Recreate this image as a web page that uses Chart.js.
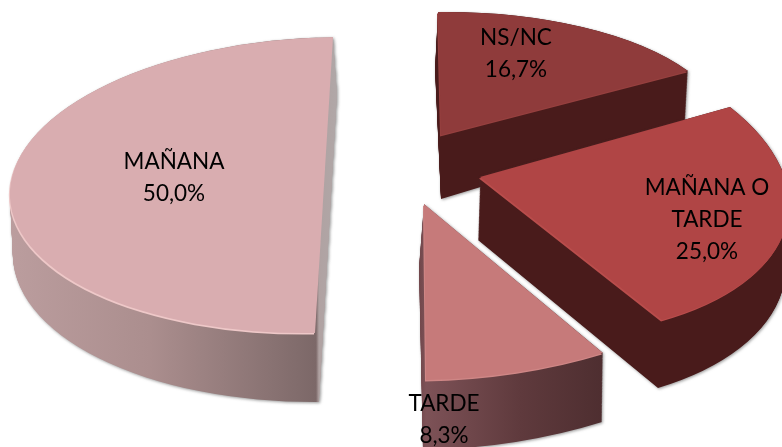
<!DOCTYPE html>
<html><head><meta charset="utf-8">
<style>html,body{margin:0;padding:0;background:#fff;overflow:hidden}canvas{display:block}</style>
<script src="https://cdn.jsdelivr.net/npm/chart.js@4"></script></head>
<body><canvas id="c" width="782" height="447"></canvas>
<script>
const categories = ["NS/NC", "MAÑANA O TARDE", "TARDE", "MAÑANA"];
const percentages = [16.7, 25.0, 8.3, 50.0];
const labelLines = [["NS/NC"], ["MAÑANA O", "TARDE"], ["TARDE"], ["MAÑANA"]];
const labelCentres = [[516, 38], [707, 188], [444, 404], [174, 162]];
const topColours = ["#8f3b3b", "#b04545", "#c67a7a", "#d9adb0"];
const rimColours = ["#96403f", "#b94d4c", "#cf8786", "#eec8c8"];
const wallStops = [
  [[430, "#491b1b"], [700, "#491b1b"]],
  [[470, "#491b1b"], [782, "#491b1b"]],
  [[418, "#6e4448"], [426, "#7d5257"], [520, "#5f3a3d"], [603, "#4e2e30"], [608, "#8a7a7a"]],
  [[10, "#bb9d9e"], [150, "#ab8e8e"], [316, "#7c6868"], [319, "#b0a2a2"], [340, "#b0a8a8"]]
];
// Projection of each flat slice into the tilted view: apex plus two rim anchors [fraction of slice, x, y]
const topFaces = [
  {apex:[441,135], a:[0,438,12],  b:[1,688,71]},
  {apex:[480,177], a:[0,730,107], b:[1,662,320]},
  {apex:[424,204], a:[0,603,353], b:[1,426,380]},
  {apex:[324,185], a:[0,315,333], b:[.5,10,190]}
];
const bottomFaces = [
  {apex:[441,199], a:[0,435,69],  b:[1,685,125]},
  {apex:[478,240], a:[0,728,165], b:[1,658,388]},
  {apex:[419,267], a:[0,602,422], b:[1,423,450]},
  {apex:[328,248], a:[0,319,402], b:[.5,13,250]}
];
const drawOrder = [3, 0, 1, 2];
const fontCss = '22.5px Lato, "Open Sans", sans-serif';
const lineGap = 32;

function matrix(face, arc) {
  const span = arc.endAngle - arc.startAngle, R = arc.outerRadius;
  const t1 = arc.startAngle + face.a[0] * span, t2 = arc.startAngle + face.b[0] * span;
  const ux = Math.cos(t1), uy = Math.sin(t1), vx = Math.cos(t2), vy = Math.sin(t2);
  const dx1 = face.a[1] - face.apex[0], dy1 = face.a[2] - face.apex[1];
  const dx2 = face.b[1] - face.apex[0], dy2 = face.b[2] - face.apex[1];
  const det = ux * vy - vx * uy;
  const ax = (dx1 * vy - dx2 * uy) / det, ay = (dy1 * vy - dy2 * uy) / det;
  const bx = (dx2 * ux - dx1 * vx) / det, by = (dy2 * ux - dy1 * vx) / det;
  return [ax / R, ay / R, bx / R, by / R,
    face.apex[0] - arc.x * ax / R - arc.y * bx / R,
    face.apex[1] - arc.x * ay / R - arc.y * by / R];
}
function withOptions(arc, extra, fn) {
  const orig = arc.options;
  arc.options = Object.assign(Object.create(orig), extra);
  fn();
  arc.options = orig;
}
const solid3d = {
  id: 'solid3d',
  beforeDatasetsDraw(chart) {
    const ctx = chart.ctx, arcs = chart.getDatasetMeta(0).data;
    const W = chart.width, H = chart.height;
    drawOrder.forEach(i => {
      const arc = arcs[i];
      const mTop = matrix(topFaces[i], arc), mBot = matrix(bottomFaces[i], arc);
      const off = document.createElement('canvas');
      off.width = W; off.height = H;
      const o = off.getContext('2d');
      withOptions(arc, {backgroundColor: '#000', borderWidth: 0}, () => {
        const steps = 90;
        for (let s = 0; s <= steps; s++) {
          const t = s / steps;
          o.setTransform(...mBot.map((v, k) => v + (mTop[k] - v) * t));
          arc.draw(o);
        }
      });
      o.setTransform(1, 0, 0, 1, 0, 0);
      o.globalCompositeOperation = 'source-in';
      const stops = wallStops[i], x0 = stops[0][0], x1 = stops[stops.length - 1][0];
      const g = o.createLinearGradient(x0, 0, x1, 0);
      stops.forEach(st => g.addColorStop((st[0] - x0) / (x1 - x0), st[1]));
      o.fillStyle = g;
      o.fillRect(0, 0, W, H);
      ctx.save();
      ctx.shadowColor = 'rgba(70,70,70,.55)';
      ctx.shadowBlur = 3;
      ctx.shadowOffsetX = 1;
      ctx.shadowOffsetY = 1;
      ctx.drawImage(off, 0, 0);
      ctx.restore();
      ctx.save();
      const mRim = mTop.slice(); mRim[4] -= 1; mRim[5] += 1.5;
      ctx.setTransform(...mRim);
      withOptions(arc, {backgroundColor: rimColours[i], borderWidth: 0}, () => arc.draw(ctx));
      ctx.setTransform(...mTop);
      withOptions(arc, {backgroundColor: topColours[i], borderWidth: 0}, () => arc.draw(ctx));
      ctx.restore();
    });
    return false;
  },
  afterDraw(chart) {
    const ctx = chart.ctx;
    ctx.save();
    ctx.font = fontCss;
    ctx.fillStyle = '#000';
    ctx.textAlign = 'center';
    ctx.textBaseline = 'middle';
    categories.forEach((c, i) => {
      const lines = labelLines[i].concat(percentages[i].toFixed(1).replace('.', ',') + '%');
      lines.forEach((l, k) => ctx.fillText(l, labelCentres[i][0], labelCentres[i][1] + k * lineGap));
    });
    ctx.restore();
  }
};
new Chart(document.getElementById('c'), {
  type: 'pie',
  data: {labels: categories, datasets: [{data: percentages, backgroundColor: topColours, borderWidth: 0}]},
  options: {
    responsive: false, animation: false,
    plugins: {legend: {display: false}, tooltip: {enabled: false}},
    layout: {padding: 0}
  },
  plugins: [solid3d]
});
</script></body></html>
